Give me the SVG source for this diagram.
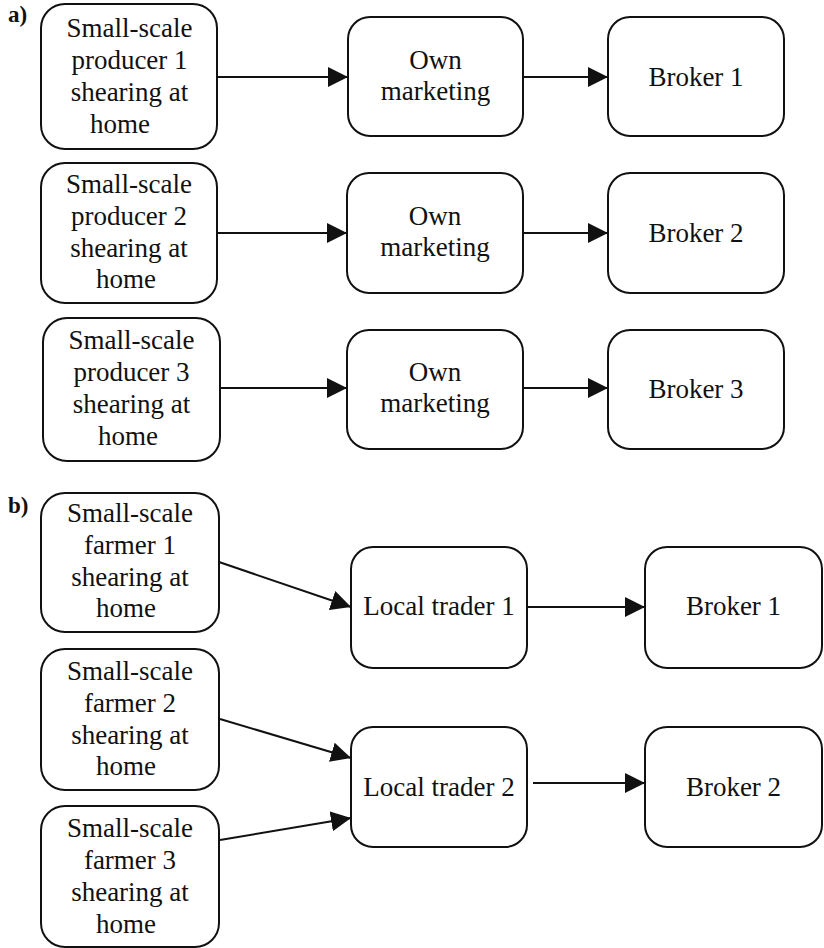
<svg xmlns="http://www.w3.org/2000/svg" width="824" height="948" viewBox="0 0 824 948">
<style>
.box{fill:#fff;stroke:#111;stroke-width:2}
.t{font-family:"Liberation Serif","Times New Roman",serif;font-size:27px;fill:#111;text-anchor:middle}
.lbl{font-family:"Liberation Serif","Times New Roman",serif;font-size:23px;font-weight:bold;fill:#111}
.c line{stroke:#111;stroke-width:2;marker-end:url(#ah)}
</style>
<defs>
<marker id="ah" markerUnits="userSpaceOnUse" markerWidth="20" markerHeight="20" refX="20" refY="10" orient="auto">
<path d="M0,0 L20,10 L0,20 z" fill="#111"/>
</marker>
</defs>
<rect width="824" height="948" fill="#fff"/>
<text class="lbl" x="8" y="22">a)</text>
<text class="lbl" x="8" y="513">b)</text>

<g id="producer1"><rect class="box" x="41" y="4" width="176" height="145" rx="24"/>
<text class="t"><tspan x="129.5" y="37">Small-scale</tspan><tspan x="129.5" y="69">producer 1</tspan><tspan x="129.5" y="101">shearing at</tspan><tspan x="120" y="133">home</tspan></text></g>
<g id="own1"><rect class="box" x="348" y="17" width="175" height="119" rx="22"/>
<text class="t"><tspan x="435.5" y="69">Own</tspan><tspan x="435.5" y="100">marketing</tspan></text></g>
<g id="broker1a"><rect class="box" x="608" y="17" width="176" height="119" rx="22"/>
<text class="t" x="696" y="86">Broker 1</text></g>

<g id="producer2"><rect class="box" x="41" y="163" width="176" height="140" rx="24"/>
<text class="t"><tspan x="129" y="193">Small-scale</tspan><tspan x="129" y="225">producer 2</tspan><tspan x="129" y="256.5">shearing at</tspan><tspan x="126" y="288">home</tspan></text></g>
<g id="own2"><rect class="box" x="347" y="173" width="176" height="120" rx="22"/>
<text class="t"><tspan x="435" y="225">Own</tspan><tspan x="435" y="256">marketing</tspan></text></g>
<g id="broker2a"><rect class="box" x="608" y="173" width="176" height="120" rx="22"/>
<text class="t" x="696" y="242">Broker 2</text></g>

<g id="producer3"><rect class="box" x="43" y="318" width="177" height="143" rx="24"/>
<text class="t"><tspan x="131.5" y="349">Small-scale</tspan><tspan x="131.5" y="381">producer 3</tspan><tspan x="131.5" y="413">shearing at</tspan><tspan x="128" y="445">home</tspan></text></g>
<g id="own3"><rect class="box" x="347" y="330" width="176" height="119" rx="22"/>
<text class="t"><tspan x="435" y="381">Own</tspan><tspan x="435" y="412">marketing</tspan></text></g>
<g id="broker3a"><rect class="box" x="608" y="330" width="176" height="119" rx="22"/>
<text class="t" x="696" y="398">Broker 3</text></g>

<g id="farmer1"><rect class="box" x="41" y="493" width="178" height="139" rx="24"/>
<text class="t"><tspan x="130" y="522">Small-scale</tspan><tspan x="130" y="554">farmer 1</tspan><tspan x="130" y="585.5">shearing at</tspan><tspan x="126" y="617">home</tspan></text></g>
<g id="trader1"><rect class="box" x="351" y="547" width="176" height="121" rx="22"/>
<text class="t" x="439" y="615">Local trader 1</text></g>
<g id="broker1b"><rect class="box" x="645" y="547" width="177" height="121" rx="22"/>
<text class="t" x="733.5" y="615">Broker 1</text></g>

<g id="farmer2"><rect class="box" x="41" y="649" width="178" height="141" rx="24"/>
<text class="t"><tspan x="130" y="680">Small-scale</tspan><tspan x="130" y="712">farmer 2</tspan><tspan x="130" y="743.5">shearing at</tspan><tspan x="126" y="775">home</tspan></text></g>
<g id="farmer3"><rect class="box" x="41" y="806" width="178" height="141" rx="24"/>
<text class="t"><tspan x="130" y="837">Small-scale</tspan><tspan x="130" y="869">farmer 3</tspan><tspan x="130" y="901">shearing at</tspan><tspan x="126" y="933">home</tspan></text></g>
<g id="trader2"><rect class="box" x="351" y="727" width="176" height="120" rx="22"/>
<text class="t" x="439" y="796">Local trader 2</text></g>
<g id="broker2b"><rect class="box" x="645" y="727" width="177" height="120" rx="22"/>
<text class="t" x="733.5" y="796">Broker 2</text></g>

<g id="connectors" class="c">
<line x1="217" y1="77" x2="348" y2="77"/>
<line x1="523" y1="77" x2="608" y2="77"/>
<line x1="217" y1="233" x2="347" y2="233"/>
<line x1="523" y1="233" x2="608" y2="233"/>
<line x1="220" y1="388" x2="347" y2="388"/>
<line x1="523" y1="388" x2="608" y2="388"/>
<line x1="219" y1="562" x2="351" y2="607"/>
<line x1="527" y1="607" x2="645" y2="607"/>
<line x1="220" y1="719" x2="351" y2="758"/>
<line x1="220" y1="840" x2="351" y2="818"/>
<line x1="533" y1="783" x2="645" y2="783"/>
</g>
</svg>
